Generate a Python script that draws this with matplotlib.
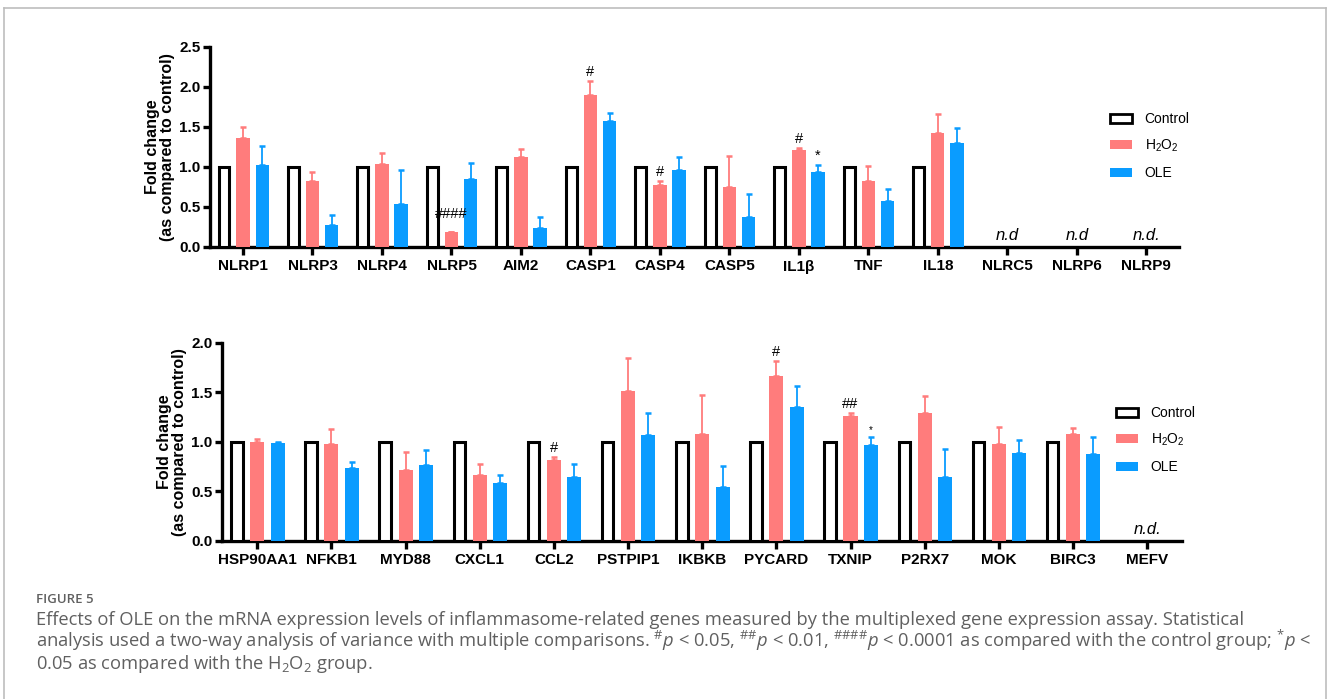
import numpy as np
import matplotlib.pyplot as plt
from matplotlib.patches import Patch
from matplotlib.lines import Line2D

plt.rcParams['font.family'] = ['Liberation Sans', 'DejaVu Sans']
plt.rcParams['mathtext.fontset'] = 'custom'
plt.rcParams['mathtext.default'] = 'regular'
plt.rcParams['mathtext.rm'] = 'Open Sans'
plt.rcParams['mathtext.it'] = 'Open Sans:italic'

nan = np.nan

# top panel
genes_top = ['NLRP1', 'NLRP3', 'NLRP4', 'NLRP5', 'AIM2', 'CASP1', 'CASP4',
             'CASP5', 'IL1β', 'TNF', 'IL18', 'NLRC5', 'NLRP6', 'NLRP9']
ctrl_top = [1, 1, 1, 1, 1, 1, 1, 1, 1, 1, 1, nan, nan, nan]
h2o2_top = [1.36, 0.82, 1.04, 0.19, 1.13, 1.90, 0.77, 0.75, 1.21, 0.83, 1.42, nan, nan, nan]
h2o2_top_err = [0.14, 0.12, 0.14, 0.0, 0.09, 0.17, 0.05, 0.39, 0.03, 0.18, 0.24, nan, nan, nan]
ole_top = [1.03, 0.27, 0.54, 0.85, 0.24, 1.57, 0.96, 0.38, 0.94, 0.57, 1.30, nan, nan, nan]
ole_top_err = [0.23, 0.13, 0.42, 0.20, 0.13, 0.10, 0.17, 0.28, 0.085, 0.16, 0.19, nan, nan, nan]
nd_top = {'NLRC5': 'n.d', 'NLRP6': 'n.d', 'NLRP9': 'n.d.'}
marks_top = [('NLRP5', 'h2o2', '####'), ('CASP1', 'h2o2', '#'), ('CASP4', 'h2o2', '#'),
             ('IL1β', 'h2o2', '#'), ('IL1β', 'ole', '*')]

# bottom panel
genes_bot = ['HSP90AA1', 'NFKB1', 'MYD88', 'CXCL1', 'CCL2', 'PSTPIP1', 'IKBKB',
             'PYCARD', 'TXNIP', 'P2RX7', 'MOK', 'BIRC3', 'MEFV']
ctrl_bot = [1, 1, 1, 1, 1, 1, 1, 1, 1, 1, 1, 1, nan]
h2o2_bot = [1.00, 0.98, 0.72, 0.67, 0.82, 1.51, 1.08, 1.66, 1.26, 1.29, 0.98, 1.08, nan]
h2o2_bot_err = [0.025, 0.15, 0.18, 0.11, 0.03, 0.33, 0.39, 0.15, 0.03, 0.17, 0.17, 0.06, nan]
ole_bot = [0.99, 0.74, 0.77, 0.58, 0.64, 1.07, 0.54, 1.35, 0.97, 0.645, 0.885, 0.88, nan]
ole_bot_err = [0.01, 0.06, 0.15, 0.09, 0.14, 0.22, 0.22, 0.21, 0.08, 0.285, 0.135, 0.17, nan]
nd_bot = {'MEFV': 'n.d.'}
marks_bot = [('CCL2', 'h2o2', '#'), ('PYCARD', 'h2o2', '#'), ('TXNIP', 'h2o2', '##'),
             ('TXNIP', 'ole', '*')]

RED = '#FF7C7C'
BLUE = '#0A9CFF'
OFF = 0.275


def draw_panel(ax, genes, ctrl, h2o2, h2o2_err, ole, ole_err, nd, marks, ymax, yticks):
    x = np.arange(len(genes))
    h2o2 = np.array(h2o2, float)
    ole = np.array(ole, float)
    h2o2_err = np.array(h2o2_err, float)
    ole_err = np.array(ole_err, float)
    ax.bar(x - OFF, ctrl, 0.155, facecolor='white', edgecolor='black', linewidth=2.2, zorder=3)
    ax.bar(x, h2o2, 0.19, color=RED, zorder=3)
    ax.bar(x + OFF, ole, 0.19, color=BLUE, zorder=3)
    ax.errorbar(x, h2o2, yerr=[np.zeros_like(h2o2_err), h2o2_err], fmt='none',
                ecolor=RED, elinewidth=1.3, capsize=2.5, capthick=1.8, zorder=2)
    ax.errorbar(x + OFF, ole, yerr=[np.zeros_like(ole_err), ole_err], fmt='none',
                ecolor=BLUE, elinewidth=1.3, capsize=2.5, capthick=1.8, zorder=2)

    for gene, grp, txt in marks:
        i = genes.index(gene)
        if grp == 'h2o2':
            xx, top = x[i], h2o2[i] + h2o2_err[i]
        else:
            xx, top = x[i] + OFF, ole[i] + ole_err[i]
        small = txt == '*' and gene == 'TXNIP'
        dy = 8 if txt == '####' else 1.5
        ax.annotate(txt, (xx, top), xytext=(0, dy), textcoords='offset points',
                    ha='center', va='bottom', fontsize=7 if small else 10.5, zorder=4)

    for gene, txt in nd.items():
        ax.text(genes.index(gene), 0.04 * ymax / 2, txt, ha='center', va='bottom',
                fontsize=12, style='italic')

    ax.set_xlim(-0.475, len(genes) - 0.53)
    ax.set_ylim(0, ymax)
    ax.set_yticks(yticks)
    ax.set_yticklabels(['%.1f' % v for v in yticks], fontsize=11, fontweight='bold')
    ax.set_xticks(x)
    ax.set_xticklabels(genes, fontsize=11, fontweight='bold')
    ax.spines['top'].set_visible(False)
    ax.spines['right'].set_visible(False)
    ax.spines['left'].set_linewidth(2.4)
    ax.spines['bottom'].set_linewidth(2.4)
    ax.tick_params(axis='both', width=2.4, length=5, pad=2)
    ax.tick_params(axis='x', length=6, pad=3)
    ax.set_ylabel('Fold change\n(as compared to control)', fontsize=11.5,
                  fontweight='bold', labelpad=3, linespacing=1.0)


fig = plt.figure(figsize=(13.28, 6.99), dpi=100)
W, H = 1328.0, 699.0

ax1 = fig.add_axes([210 / W, 1 - 247 / H, (1179 - 210) / W, 200 / H])
draw_panel(ax1, genes_top, ctrl_top, h2o2_top, h2o2_top_err, ole_top, ole_top_err,
           nd_top, marks_top, 2.5, [0.0, 0.5, 1.0, 1.5, 2.0, 2.5])

ax2 = fig.add_axes([222 / W, 1 - 541 / H, (1182 - 222) / W, 198.5 / H])
draw_panel(ax2, genes_bot, ctrl_bot, h2o2_bot, h2o2_bot_err, ole_bot, ole_bot_err,
           nd_bot, marks_bot, 2.0, [0.0, 0.5, 1.0, 1.5, 2.0])

handles = [Patch(facecolor='white', edgecolor='black', linewidth=2),
           Patch(facecolor=RED), Patch(facecolor=BLUE)]
labels = ['Control', 'H$_2$O$_2$', 'OLE']
for xl, yc in [(1103, 146), (1109, 440)]:
    fig.legend(handles, labels, loc='center left', bbox_to_anchor=(xl / W, 1 - yc / H),
               frameon=False, fontsize=10, handlelength=1.6, handleheight=0.6,
               labelspacing=0.85, handletextpad=0.9, borderpad=0.0)

# frame around the figure
for xs, ys in [([4, 1326], [8, 8]), ([4, 4], [8, 699]), ([1326, 1326], [8, 699])]:
    fig.add_artist(Line2D([v / W for v in xs], [1 - v / H for v in ys],
                          color='#bdbdbd', linewidth=1.2))

cap_font = ['Open Sans', 'DejaVu Sans']
grey = '#606060'
fig.text(36 / W, 1 - 603 / H, 'FIGURE 5', family=cap_font, fontsize=9.5,
         fontweight='semibold', color=grey, va='baseline')
lines = [
    'Effects of OLE on the mRNA expression levels of inflammasome-related genes measured '
    'by the multiplexed gene expression assay. Statistical',
    r'analysis used a two-way analysis of variance with multiple comparisons. '
    r'$^{\#}\mathit{p}$ < 0.05, $^{\#\#}\mathit{p}$ < 0.01, $^{\#\#\#\#}\mathit{p}$ < 0.0001 '
    r'as compared with the control group; $^{*}\mathit{p}$ <',
    '0.05 as compared with the H$_2$O$_2$ group.',
]
for k, line in enumerate(lines):
    fig.text(36 / W, 1 - (625 + 22 * k) / H, line, family=cap_font, fontsize=13.2,
             color=grey, va='baseline')

fig.savefig('out.png', dpi=100)
